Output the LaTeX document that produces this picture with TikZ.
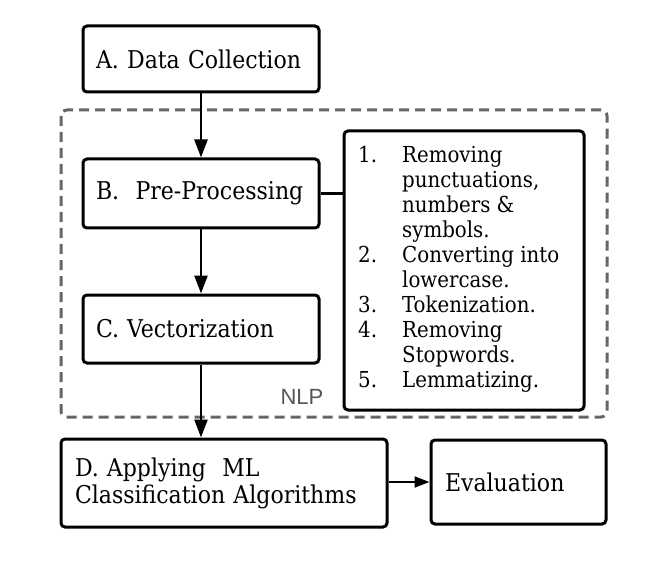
\documentclass[tikz,border=0pt]{standalone}
\usepackage{fontspec}
\setmainfont{DejaVu Serif Condensed}
\newfontfamily\nlpfont{Liberation Sans}
\usetikzlibrary{arrows.meta}
\definecolor{dashgray}{HTML}{666666}
\definecolor{nlpgray}{HTML}{555555}
\tikzset{
  stagebox/.style={draw=black, line width=3pt, rounded corners=4pt, fill=white,
    align=left, inner xsep=13pt, inner ysep=0pt, font=\fontsize{24.5}{27}\selectfont},
  flowarrow/.style={line width=2.5pt, -{Triangle[length=18pt,width=13pt]}},
  sidearrow/.style={line width=2pt, -{Triangle[length=15pt,width=11pt]}},
  linkline/.style={line width=2.5pt},
  nlpframe/.style={draw=dashgray, line width=3pt, rounded corners=6pt, dash pattern=on 10pt off 6pt},
}
\begin{document}
\begin{tikzpicture}[x=1pt,y=-1pt]
\useasboundingbox (0,0) rectangle (658,569);
% NLP dashed frame
\draw[nlpframe] (61,110) rectangle (607,417);
\node[font=\nlpfont\fontsize{22}{26}\selectfont, text=nlpgray, inner sep=0pt] (nlp) at (302,397) {NLP};
% boxes
\node[stagebox, text width=210pt, minimum height=66pt] (A) at (201,59) {A. Data Collection};
\node[stagebox, text width=210pt, minimum height=69pt] (B) at (201,193.5) {B.~ Pre-Processing};
\node[stagebox, text width=210pt, minimum height=68pt] (C) at (201,329) {C. Vectorization};
\node[stagebox, inner xsep=14pt, text width=298pt, minimum height=88pt] (D) at (224,483) {D. Applying~ ML\\Classification Algorithms};
\node[stagebox, inner xsep=14pt, text width=147pt, minimum height=84pt] (E) at (518.5,482) {Evaluation};
\node[draw=black, line width=3pt, rounded corners=4pt, fill=white, minimum width=240pt, minimum height=279pt, inner sep=0pt] (list) at (464,270.5) {};
\node[anchor=west, inner sep=0pt, font=\fontsize{22}{25}\selectfont] (listtext) at (358,270) {%
\renewcommand{\arraystretch}{1}%
\begin{tabular}{@{}p{44pt}@{}l@{}}
1. & Removing\\
   & punctuations,\\
   & numbers \&\\
   & symbols.\\
2. & Converting into\\
   & lowercase.\\
3. & Tokenization.\\
4. & Removing\\
   & Stopwords.\\
5. & Lemmatizing.
\end{tabular}};
% connectors
\draw[flowarrow] (A.south) -- (B.north);
\draw[flowarrow] (B.south) -- (C.north);
\draw[flowarrow] (C.south) -- (C.south |- D.north);
\draw[sidearrow] (D.east |- E.west) -- (E.west);
\draw[linkline] (B.east) -- (B.east -| list.west);
\end{tikzpicture}
\end{document}
